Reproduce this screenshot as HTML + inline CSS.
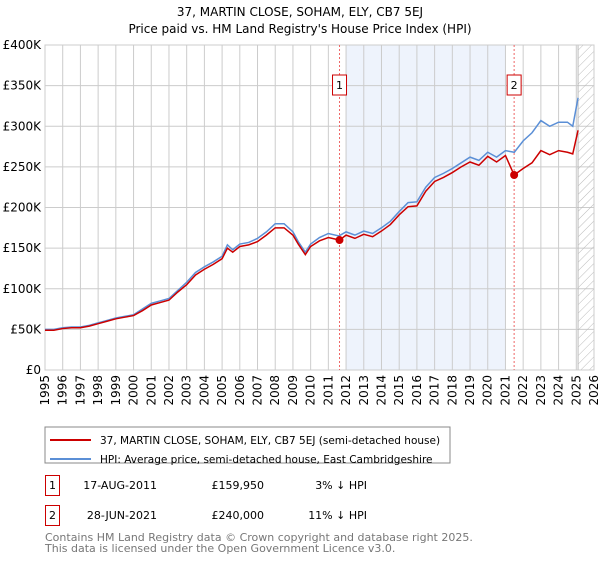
<!DOCTYPE html>
<html><head><meta charset="utf-8"><style>
body{margin:0;background:#fff;font-family:"DejaVu Sans","Liberation Sans",sans-serif;}
svg text{font-family:"DejaVu Sans","Liberation Sans",sans-serif;}
</style></head><body>
<svg id="c" width="600" height="560" xmlns="http://www.w3.org/2000/svg">
<defs><pattern id="hatch" width="6" height="6" patternUnits="userSpaceOnUse" patternTransform="rotate(45)"><line x1="0" y1="0" x2="0" y2="6" stroke="#bbb" stroke-width="1"/></pattern></defs>
<text x="300" y="16" text-anchor="middle" font-size="12">37, MARTIN CLOSE, SOHAM, ELY, CB7 5EJ</text>
<text x="300" y="33" text-anchor="middle" font-size="12">Price paid vs. HM Land Registry's House Price Index (HPI)</text>
<g id="plot"></g>
<rect x="45" y="427" width="405" height="36" fill="#fff" stroke="#888"/>
<line x1="50" y1="440" x2="91" y2="440" stroke="#cc0000" stroke-width="2"/>
<text x="100" y="444" font-size="10.5">37, MARTIN CLOSE, SOHAM, ELY, CB7 5EJ (semi-detached house)</text>
<line x1="50" y1="459" x2="91" y2="459" stroke="#5b8fd6" stroke-width="2"/>
<text x="100" y="463" font-size="10.5">HPI: Average price, semi-detached house, East Cambridgeshire</text>
<g>
<rect x="45.5" y="475.5" width="14" height="20" fill="#fff" stroke="#cc0000"/>
<text x="52.5" y="489" text-anchor="middle" font-size="11">1</text>
<text x="157" y="489" text-anchor="end" font-size="11">17-AUG-2011</text>
<text x="264" y="489" text-anchor="end" font-size="11">£159,950</text>
<text x="367" y="489" text-anchor="end" font-size="11">3% ↓ HPI</text></g>
<g>
<rect x="45.5" y="505.5" width="14" height="20" fill="#fff" stroke="#cc0000"/>
<text x="52.5" y="519" text-anchor="middle" font-size="11">2</text>
<text x="157" y="519" text-anchor="end" font-size="11">28-JUN-2021</text>
<text x="264" y="519" text-anchor="end" font-size="11">£240,000</text>
<text x="367" y="519" text-anchor="end" font-size="11">11% ↓ HPI</text></g>
<text x="45" y="541" font-size="11" fill="#777">Contains HM Land Registry data © Crown copyright and database right 2025.</text>
<text x="45" y="552" font-size="11" fill="#777">This data is licensed under the Open Government Licence v3.0.</text>
</svg>
<script>
const hpiYears=[1995,1995.5,1996,1996.5,1997,1997.5,1998,1998.5,1999,1999.5,2000,2000.5,2001,2001.5,2002,2002.5,2003,2003.5,2004,2004.5,2005,2005.3,2005.6,2006,2006.5,2007,2007.5,2008,2008.5,2009,2009.3,2009.7,2010,2010.5,2011,2011.6,2012,2012.5,2013,2013.5,2014,2014.5,2015,2015.5,2016,2016.5,2017,2017.5,2018,2018.5,2019,2019.5,2020,2020.5,2021,2021.5,2022,2022.5,2023,2023.5,2024,2024.5,2024.8,2025.1];
const hpiValues=[50,50,52,53,53,55,58,61,64,66,68,75,82,85,88,98,108,120,127,133,140,154,148,155,157,162,170,180,180,170,158,145,155,163,168,165,170,166,171,168,175,183,195,206,207,225,237,242,248,255,262,258,268,262,270,268,282,292,307,300,305,305,300,335];
const priceYears=[1995,1995.5,1996,1996.5,1997,1997.5,1998,1998.5,1999,1999.5,2000,2000.5,2001,2001.5,2002,2002.5,2003,2003.5,2004,2004.5,2005,2005.3,2005.6,2006,2006.5,2007,2007.5,2008,2008.5,2009,2009.3,2009.7,2010,2010.5,2011,2011.63,2012,2012.5,2013,2013.5,2014,2014.5,2015,2015.5,2016,2016.5,2017,2017.5,2018,2018.5,2019,2019.5,2020,2020.5,2021,2021.49,2022,2022.5,2023,2023.5,2024,2024.5,2024.8,2025.1];
const priceValues=[49,49,51,52,52,54,57,60,63,65,67,73,80,83,86,96,105,117,124,130,137,150,145,152,154,158,166,175,175,166,155,142,152,159,163,159.95,166,162,167,164,171,179,191,201,202,220,232,237,243,250,256,252,263,256,264,240,248,255,270,265,270,268,266,295];
const yTicks=[0,50,100,150,200,250,300,350,400];
const yTickLabels=["£0","£50K","£100K","£150K","£200K","£250K","£300K","£350K","£400K"];
const xTicks=[1995,1996,1997,1998,1999,2000,2001,2002,2003,2004,2005,2006,2007,2008,2009,2010,2011,2012,2013,2014,2015,2016,2017,2018,2019,2020,2021,2022,2023,2024,2025,2026];
const sales=[{n:"1",t:2011.63,v:159.95},{n:"2",t:2021.49,v:240}];
const L=45,R=594,T=45,B=370;
const x=t=>L+(t-1995)/(2026-1995)*(R-L);
const y=v=>B-v/400*(B-T);
const NS="http://www.w3.org/2000/svg";
const g=document.getElementById('plot');
function mk(tag,attrs,parent){const e=document.createElementNS(NS,tag);for(const k in attrs)e.setAttribute(k,attrs[k]);(parent||g).appendChild(e);return e;}
let sh=mk('rect',{x:x(2012),y:T,width:x(2021)-x(2012),height:B-T,fill:'#eef3fc'});


yTicks.forEach((v,i)=>{
 mk('line',{x1:L,x2:R,y1:y(v),y2:y(v),stroke:'#ccc'});
 const t=mk('text',{x:L-4,y:y(v)+4,'text-anchor':'end','font-size':12});t.textContent=yTickLabels[i];
 
 
});
xTicks.forEach(yr=>{
 mk('line',{x1:x(yr),x2:x(yr),y1:T,y2:B,stroke:'#ccc'});
 const t=mk('text',{x:0,y:0,'text-anchor':'end','font-size':12,transform:`translate(${x(yr)+4},${B+5}) rotate(-90)`});t.textContent=yr;
 
 
});
let hz=mk('rect',{x:x(2025.1),y:T,width:R-x(2025.1),height:B-T,fill:'url(#hatch)',stroke:'#bbb'});


mk('rect',{x:L,y:T,width:R-L,height:B-T,fill:'none',stroke:'#ccc'});
sales.forEach(s=>{
 mk('line',{x1:x(s.t),x2:x(s.t),y1:T,y2:B,stroke:'#e66','stroke-dasharray':'2,2'});
});
let hp=mk('polyline',{points:hpiYears.map((t,i)=>x(t)+','+y(hpiValues[i])).join(' '),fill:'none',stroke:'#5b8fd6','stroke-width':1.5});


let pp=mk('polyline',{points:priceYears.map((t,i)=>x(t)+','+y(priceValues[i])).join(' '),fill:'none',stroke:'#cc0000','stroke-width':1.5});


sales.forEach(s=>{
 const c=mk('circle',{cx:x(s.t),cy:y(s.v),r:4,fill:'#cc0000'});
 
 
 const b=mk('rect',{x:x(s.t)-7,y:75,width:14,height:20,fill:'#fff',stroke:'#cc0000'});
 
 
 const t=mk('text',{x:x(s.t),y:89,'text-anchor':'middle','font-size':11});t.textContent=s.n;
});
</script>
</body></html>
